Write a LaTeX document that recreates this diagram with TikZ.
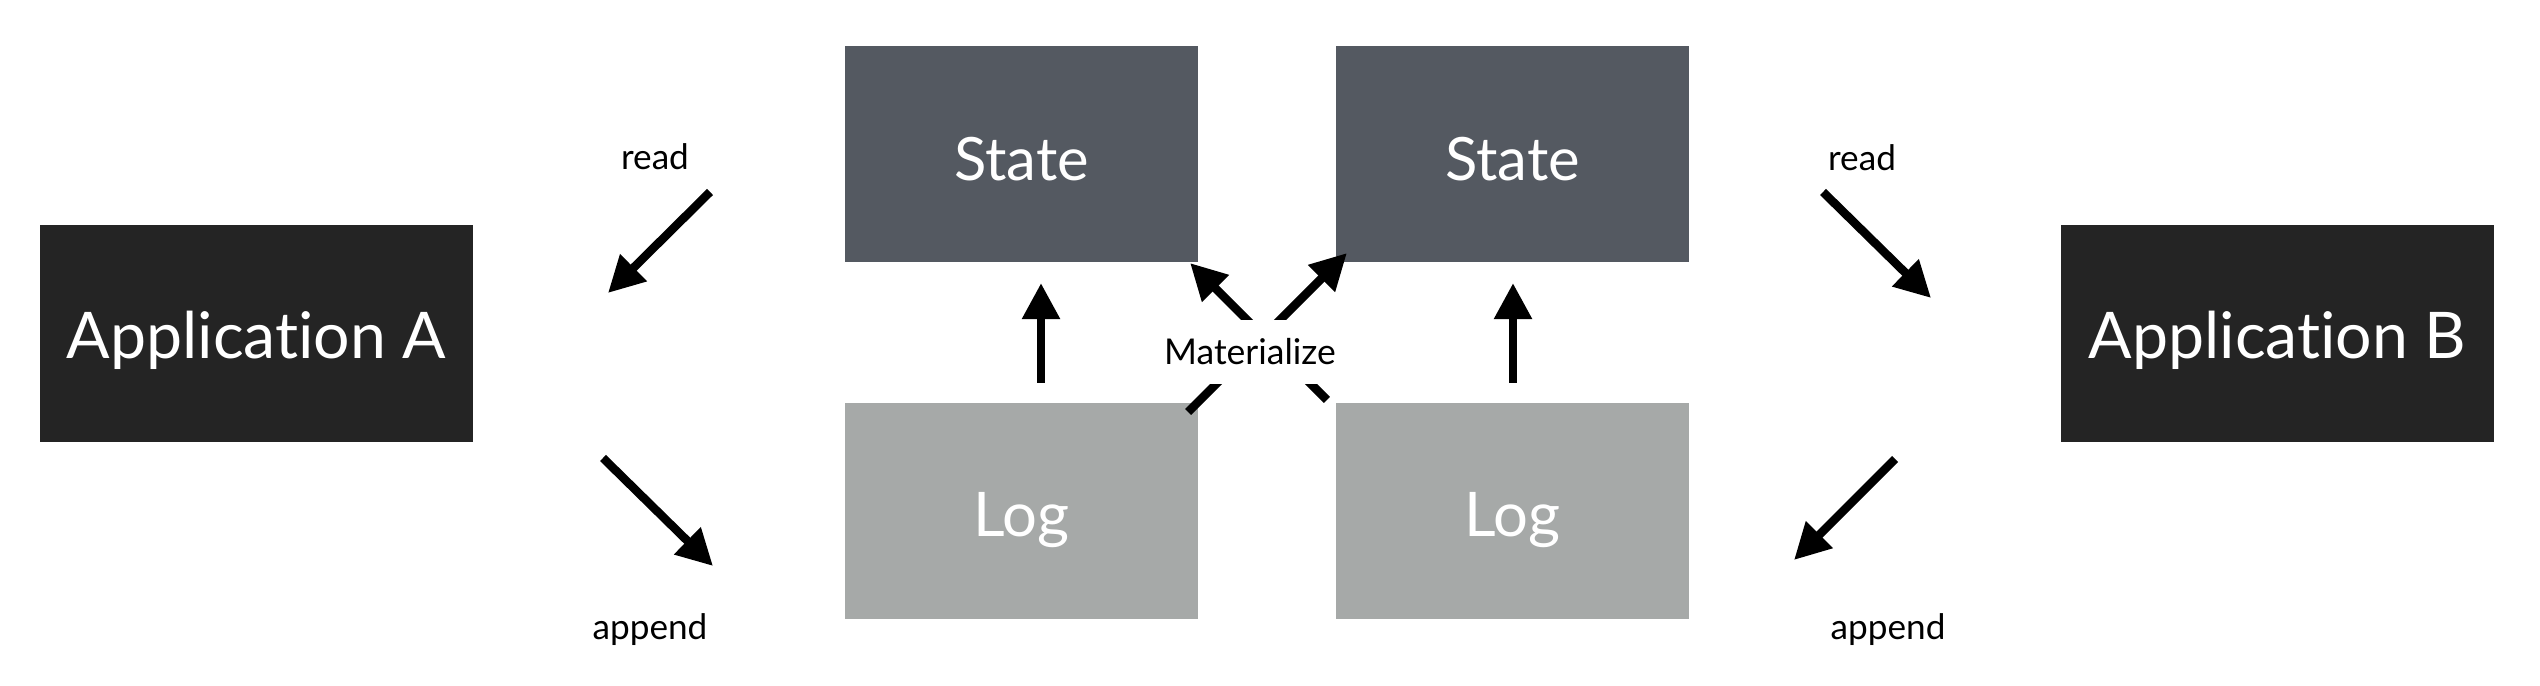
\documentclass[tikz,border=0pt]{standalone}
\usepackage{fontspec}
\setmainfont{Lato}[Ligatures=NoCommon]
\usetikzlibrary{arrows.meta}
\definecolor{appcol}{HTML}{242424}
\definecolor{statecol}{HTML}{545961}
\definecolor{logcol}{HTML}{A6A9A8}
\begin{document}
\begin{tikzpicture}[x=0.01cm,y=-0.01cm,
  box/.style={inner sep=0pt,outer sep=0pt,text=white,minimum width=3.53cm,minimum height=2.16cm},
  appbox/.style={box,fill=appcol,minimum width=4.33cm,minimum height=2.17cm,font=\fontsize{18.3}{22}\selectfont,text height=14.1pt,text depth=0pt},
  statebox/.style={box,fill=statecol,font=\fontsize{17}{21}\selectfont,text height=15pt,text depth=0pt},
  logbox/.style={box,fill=logcol,font=\fontsize{17.5}{21}\selectfont,text height=14.3pt,text depth=0pt},
  lbl/.style={inner sep=0pt,font=\fontsize{10}{12}\selectfont},
  arr/.style={line width=0.085cm,-{Triangle[length=0.36cm,width=0.36cm]}}]
\useasboundingbox (0,0) rectangle (2540,686);
% boxes
\node[appbox] (appA) at (256.5,333.5) {Application A};
\node[appbox] (appB) at (2277.5,333.5) {Application B};
\node[statebox] (state1) at (1021.5,154) {State};
\node[statebox] (state2) at (1512.5,154) {State};
\node[logbox] (log1) at (1021.5,511) {Log};
\node[logbox] (log2) at (1512.5,511) {Log};
% labels
\node[lbl] (readA) at (655,157) {read};
\node[lbl] (appendA) at (650,630) {append};
\node[lbl] (readB) at (1862,158) {read};
\node[lbl] (appendB) at (1888,630) {append};
% free ends
\coordinate (rA1) at (710,192);
\coordinate (rA2) at (608,293);
\coordinate (aA1) at (603,458);
\coordinate (aA2) at (713,566);
\coordinate (rB1) at (1823,192);
\coordinate (rB2) at (1931,298);
\coordinate (aB1) at (1895,459);
\coordinate (aB2) at (1794,560);
% arrows
\draw[arr] (rA1) -- (rA2);
\draw[arr] (aA1) -- (aA2);
\draw[arr] (rB1) -- (rB2);
\draw[arr] (aB1) -- (aB2);
\draw[arr] ([shift={(19.5,-20)}]log1.north) -- ([shift={(19.5,21)}]state1.south);
\draw[arr] ([shift={(0.5,-20)}]log2.north) -- ([shift={(0.5,21)}]state2.south);
\draw[arr] ([shift={(-10,9)}]log1.north east) -- ([shift={(11,-9)}]state2.south west);
\draw[arr] ([shift={(-9,-3)}]log2.north west) -- ([shift={(-8,1)}]state1.south east);
\node[fill=white,inner xsep=2pt,inner ysep=0pt,minimum height=0.64cm,font=\fontsize{10.1}{12}\selectfont] (mat) at (1250,352) {Materialize};
\end{tikzpicture}
\end{document}
